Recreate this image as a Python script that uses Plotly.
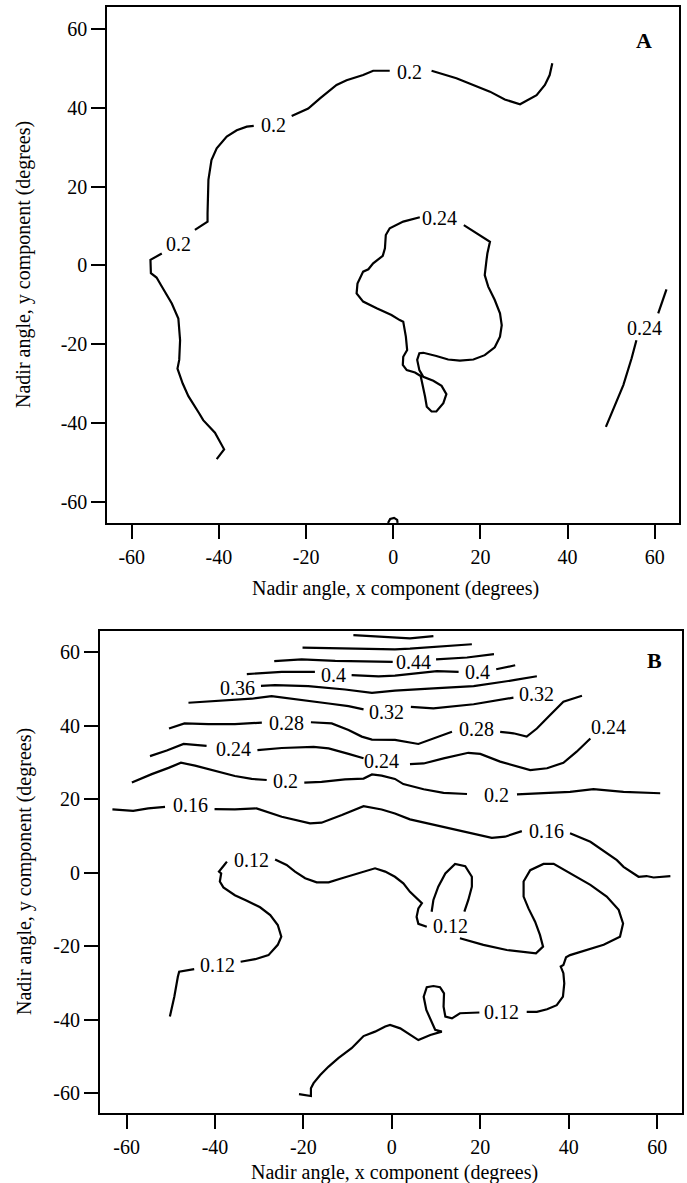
import plotly.graph_objects as go

FONT = "Liberation Serif, Times New Roman, serif"
TICKS = [-60, -40, -20, 0, 20, 40, 60]

# ---------------- Panel A contour segments (degrees) ----------------
a20_1x = [-40.5, -38.8, -40.9, -43.6, -44.5, -47.0, -48.3, -49.5, -49.1, -48.9, -49.3, -50.8, -53.3, -54.3, -55.6, -55.7, -53.1]
a20_1y = [-49.2, -46.7, -42.5, -39.3, -37.6, -33.2, -30.0, -26.2, -24.0, -19.0, -13.5, -9.7, -5.0, -3.1, -2.0, 1.4, 3.0]
a20_2x = [-45.5, -42.6, -42.6, -42.4, -41.7, -40.5, -38.2, -35.9, -33.6, -32.0]
a20_2y = [9.0, 11.1, 13.2, 21.7, 26.7, 29.7, 32.7, 34.3, 35.2, 35.4]
a20_3x = [-23.3, -19.5, -16.8, -13.0, -10.7, -6.9, -4.6, -0.8]
a20_3y = [37.9, 39.8, 42.4, 45.8, 47.0, 48.3, 49.4, 49.4]
a20_4x = [8.8, 14.5, 22.2, 25.6, 29.1, 32.9, 34.8, 35.9, 36.5]
a20_4y = [49.4, 47.5, 44.1, 42.1, 40.9, 43.2, 45.8, 48.3, 51.3]
a20_5x = [-1.2, -0.7, 0.2, 0.9, 1.0]
a20_5y = [-65.4, -64.4, -64.1, -64.6, -65.4]

a24_1x = [6.1, 2.3, -0.8, -1.7, -1.9, -2.4, -4.6, -5.7, -6.9, -8.2,
          -8.4, -6.9, -3.8, -0.4, 1.5, 2.3, 2.9, 3.2, 2.3, 2.2,
          3.1, 5.0, 6.3, 6.7, 7.3, 7.7, 8.8, 9.9, 11.5, 12.2,
          11.1, 9.2, 6.9, 6.0, 5.5, 6.0, 6.9, 9.9, 12.6, 15.3,
          18.4, 21.0, 23.3, 24.5, 24.9, 24.5, 23.3, 21.8, 21.0, 21.4,
          21.6, 22.2, 18.7, 16.2]
a24_1y = [12.2, 11.1, 9.4, 7.7, 4.3, 2.4, 0.5, -1.0, -1.6, -4.6,
          -7.1, -9.2, -10.9, -12.6, -13.9, -14.3, -18.1, -21.5, -23.2, -25.3,
          -26.6, -27.2, -28.1, -30.0, -33.3, -35.9, -37.1, -37.1, -35.0, -32.7,
          -30.6, -29.3, -28.3, -26.6, -24.0, -22.3, -22.2, -23.0, -23.9, -24.2,
          -23.9, -22.8, -20.8, -18.1, -15.2, -12.2, -8.8, -5.4, -2.5, 1.3,
          3.0, 6.0, 8.5, 10.2]
a24_2x = [48.8, 50.9, 52.8, 54.7, 55.8]
a24_2y = [-41.0, -35.5, -30.4, -23.6, -19.0]
a24_3x = [60.8, 62.7]
a24_3y = [-12.2, -6.1]

# contour labels, panel A
lab_a_x = [-49.2, -27.5, 3.8, 10.7, 57.7]
lab_a_y = [5.4, 35.6, 49.2, 11.9, -16.0]
lab_a_v = [0.2, 0.2, 0.2, 0.24, 0.24]

# ---------------- Panel B contour segments (degrees) ----------------
b52_1x = [-8.7, -3.8, -0.4, 4.1, 9.4]
b52_1y = [64.6, 64.3, 63.9, 63.7, 64.3]
b48_1x = [-20.2, -11.3, -4.0, 0.7, 4.1, 9.4, 14.0, 18.1]
b48_1y = [61.2, 61.0, 60.7, 60.7, 60.9, 61.3, 61.6, 62.1]
b44_1x = [-26.6, -20.4, -12.8, -5.0, 0.2]
b44_1y = [57.5, 58.0, 57.6, 57.4, 57.3]
b44_2x = [10.0, 17.0, 23.1]
b44_2y = [58.0, 58.5, 59.4]
b40_1x = [-32.8, -24.9, -17.4]
b40_1y = [54.0, 54.6, 54.6]
b40_2x = [-9.1, -3.0, 0.7, 6.4, 10.2, 15.1]
b40_2y = [53.7, 53.4, 53.6, 54.2, 54.8, 54.6]
b40_3x = [23.6, 27.9]
b40_3y = [55.3, 56.4]
b36_1x = [-29.6, -26.4, -18.9, -10.6, -4.5, 0.7, 9.4, 18.5, 27.9, 32.8]
b36_1y = [50.8, 51.0, 50.7, 49.8, 48.9, 49.5, 50.1, 50.7, 52.4, 53.4]
b32_1x = [-46.0, -37.0, -31.7, -27.2, -21.9, -14.3, -9.8, -6.4]
b32_1y = [46.2, 46.9, 47.3, 48.0, 47.1, 46.0, 45.3, 44.4]
b32_2x = [4.3, 9.4, 18.5, 27.5]
b32_2y = [45.1, 44.7, 45.8, 47.6]
b28_1x = [-50.4, -46.9, -41.5, -35.5, -29.4]
b28_1y = [39.2, 40.6, 40.4, 40.4, 40.8]
b28_2x = [-18.3, -13.6, -9.8, -6.8, -4.5, 0.7, 6.0, 9.4, 13.6]
b28_2y = [40.9, 40.6, 38.8, 37.0, 36.2, 36.1, 35.0, 36.5, 38.3]
b28_3x = [24.5, 27.5, 30.5, 32.8, 35.8, 38.8, 43.0]
b28_3y = [38.3, 37.9, 37.0, 39.2, 42.9, 46.5, 48.1]
b24_1x = [-54.7, -50.9, -47.1, -41.9]
b24_1y = [31.7, 33.2, 35.0, 34.5]
b24_2x = [-30.4, -24.9, -17.7, -14.3, -9.8, -6.4]
b24_2y = [33.3, 33.9, 34.2, 33.8, 32.3, 31.1]
b24_3x = [4.1, 7.2, 11.7, 17.3, 20.0, 24.5, 31.3, 35.1, 38.8, 41.8, 44.9]
b24_3y = [29.5, 29.7, 31.1, 32.6, 32.3, 30.2, 27.9, 28.4, 29.9, 32.9, 36.5]
b20_1x = [-58.8, -54.3, -50.5, -47.7, -44.5, -39.2, -35.5, -31.7, -28.3]
b20_1y = [24.5, 26.8, 28.5, 29.9, 29.1, 27.5, 26.3, 25.5, 25.2]
b20_2x = [-19.8, -15.9, -10.6, -6.4, -4.5, -2.3, 0.7, 2.6, 7.2, 11.7, 17.0]
b20_2y = [24.5, 24.7, 25.4, 25.6, 26.7, 26.4, 25.5, 24.1, 22.7, 21.7, 21.4]
b20_3x = [28.3, 34.3, 40.3, 45.6, 52.4, 60.7]
b20_3y = [21.3, 21.7, 22.0, 22.7, 22.0, 21.6]
b16_1x = [-63.2, -58.5, -55.1, -51.3]
b16_1y = [17.2, 16.8, 17.5, 17.9]
b16_2x = [-40.1, -35.5, -30.6, -24.9, -18.5, -15.9, -11.3, -6.4, -2.3, 0.7, 4.1, 10.9, 17.7, 22.6, 25.6, 29.4]
b16_2y = [17.3, 17.2, 17.5, 15.2, 13.4, 13.6, 15.7, 18.1, 17.2, 16.1, 14.5, 12.7, 10.9, 9.5, 9.8, 11.3]
b16_3x = [40.3, 44.9, 50.9, 52.4, 55.8, 57.6, 59.2, 63.0]
b16_3y = [10.7, 8.4, 3.4, 1.6, -1.1, -0.9, -1.3, -0.9]
b12_1x = [-50.2, -49.2, -48.4, -48.1, -44.7]
b12_1y = [-39.1, -33.7, -28.3, -26.9, -26.2]
b12_2x = [-34.2, -30.9, -27.9, -25.8, -25.0, -25.8, -27.5, -29.8, -32.8, -35.5, -38.1, -38.9, -38.6, -39.1, -37.9, -37.3]
b12_2y = [-24.2, -23.5, -22.4, -19.6, -17.4, -14.2, -11.5, -9.4, -7.6, -6.1, -4.0, -2.4, -0.2, 0.3, 2.1, 3.0]
b12_3x = [-26.4, -23.8, -21.9, -19.6, -17.0, -14.3, -11.3, -7.9, -3.8, -1.5, 0.7, 2.6, 4.1, 6.8, 6.0, 5.6, 6.0, 7.9]
b12_3y = [3.6, 2.1, 0.3, -1.5, -2.6, -2.6, -1.5, -0.2, 1.2, 0.3, -1.1, -2.9, -5.2, -8.3, -9.7, -12.0, -13.9, -14.7]
b12_4x = [9.0, 9.4, 10.5, 12.1, 14.3, 16.6, 18.1, 18.1, 17.3, 16.4]
b12_4y = [-10.6, -7.4, -3.8, -0.2, 2.4, 1.8, -1.1, -3.8, -7.4, -10.6]
b12_5x = [15.4, 20.7, 26.0, 32.6, 34.2, 33.5, 32.4, 30.9, 29.8, 29.8, 31.3, 34.3, 36.6, 40.3, 44.9, 48.6,
          51.3, 52.3, 51.6, 47.9, 44.1, 40.3, 39.4, 38.8, 38.2, 38.8, 39.0, 38.7, 37.3, 35.1, 32.8, 30.5]
b12_5y = [-17.8, -19.6, -21.0, -21.9, -20.1, -16.9, -13.3, -9.7, -6.5, -2.4, 0.7, 2.4, 2.4, -0.2, -3.3, -6.5,
          -10.1, -13.8, -17.4, -19.6, -21.0, -22.4, -23.0, -25.1, -25.5, -27.3, -30.1, -33.7, -36.0, -37.1, -37.8, -37.8]
b12_6x = [19.8, 18.1, 15.4, 13.6, 12.1, 11.7, 11.8, 10.9, 9.4, 7.9, 7.2, 7.8, 8.8, 9.8, 11.3, 8.7,
          6.0, 4.1, 1.9, -0.4, -1.5, -3.8, -6.4, -7.6, -9.1, -12.1, -14.3, -16.2, -17.7, -18.3, -18.3, -21.0]
b12_6y = [-38.0, -38.0, -38.2, -39.6, -39.1, -36.4, -32.8, -31.1, -30.8, -31.1, -33.7, -37.3, -40.0, -42.7, -43.2, -44.1,
          -45.5, -44.1, -42.3, -41.4, -41.8, -43.2, -44.4, -45.9, -47.7, -50.4, -52.7, -55.0, -57.2, -58.6, -60.7, -60.2]

# contour labels, panel B
lab_b_x = [4.8, -13.3, 19.3, -34.9, -1.3, 32.8, -23.8, 19.1, -35.8, -2.3, 49.0, -24.1, 23.7, -45.6, 34.9,
           -39.4, -31.8, 13.2, 24.9]
lab_b_y = [57.3, 53.7, 54.6, 50.1, 43.8, 48.7, 40.8, 39.0, 33.5, 30.3, 39.7, 24.9, 21.1, 18.4, 11.3,
           -25.1, 3.5, -14.5, -37.8]
lab_b_v = [0.44, 0.4, 0.4, 0.36, 0.32, 0.32, 0.28, 0.28, 0.24, 0.24, 0.24, 0.2, 0.2, 0.16, 0.16,
           0.12, 0.12, 0.12, 0.12]

segments_a = [
    (0.2, a20_1x, a20_1y), (0.2, a20_2x, a20_2y), (0.2, a20_3x, a20_3y),
    (0.2, a20_4x, a20_4y), (0.2, a20_5x, a20_5y),
    (0.24, a24_1x, a24_1y), (0.24, a24_2x, a24_2y), (0.24, a24_3x, a24_3y),
]
segments_b = [
    (0.52, b52_1x, b52_1y), (0.48, b48_1x, b48_1y),
    (0.44, b44_1x, b44_1y), (0.44, b44_2x, b44_2y),
    (0.4, b40_1x, b40_1y), (0.4, b40_2x, b40_2y), (0.4, b40_3x, b40_3y),
    (0.36, b36_1x, b36_1y),
    (0.32, b32_1x, b32_1y), (0.32, b32_2x, b32_2y),
    (0.28, b28_1x, b28_1y), (0.28, b28_2x, b28_2y), (0.28, b28_3x, b28_3y),
    (0.24, b24_1x, b24_1y), (0.24, b24_2x, b24_2y), (0.24, b24_3x, b24_3y),
    (0.2, b20_1x, b20_1y), (0.2, b20_2x, b20_2y), (0.2, b20_3x, b20_3y),
    (0.16, b16_1x, b16_1y), (0.16, b16_2x, b16_2y), (0.16, b16_3x, b16_3y),
    (0.12, b12_1x, b12_1y), (0.12, b12_2x, b12_2y), (0.12, b12_3x, b12_3y),
    (0.12, b12_4x, b12_4y), (0.12, b12_5x, b12_5y), (0.12, b12_6x, b12_6y),
]

fig = go.Figure()
for segs, xa, ya in ((segments_a, "x", "y"), (segments_b, "x2", "y2")):
    for level, xs, ys in segs:
        fig.add_trace(go.Scatter(
            x=xs, y=ys, xaxis=xa, yaxis=ya, mode="lines",
            line=dict(color="black", width=2.2), name=f"{level:g}",
            hoverinfo="skip", showlegend=False,
        ))

annotations = []
for xs, ys, vs, xr, yr in ((lab_a_x, lab_a_y, lab_a_v, "x", "y"),
                           (lab_b_x, lab_b_y, lab_b_v, "x2", "y2")):
    for x, y, v in zip(xs, ys, vs):
        annotations.append(dict(
            x=x, y=y, xref=xr, yref=yr, text=f"{v:g}", showarrow=False,
            xanchor="center", yanchor="middle",
            font=dict(family=FONT, size=20, color="black"),
        ))

# panel letters
annotations.append(dict(x=57.5, y=57.2, xref="x", yref="y", text="<b>A</b>", showarrow=False,
                        font=dict(family=FONT, size=22, color="black")))
annotations.append(dict(x=59.5, y=57.6, xref="x2", yref="y2", text="<b>B</b>", showarrow=False,
                        font=dict(family=FONT, size=22, color="black")))

# axis titles
title_font = dict(family=FONT, size=20, color="black")
XT = "Nadir angle, x component (degrees)"
YT = "Nadir angle, y component (degrees)"
annotations += [
    dict(x=395 / 687, y=1 - 588 / 1183, xref="paper", yref="paper", text=XT, showarrow=False,
         xanchor="center", yanchor="middle", font=title_font),
    dict(x=394 / 687, y=1 - 1172 / 1183, xref="paper", yref="paper", text=XT, showarrow=False,
         xanchor="center", yanchor="middle", font=title_font),
    dict(x=24 / 687, y=1 - 265 / 1183, xref="paper", yref="paper", text=YT, showarrow=False,
         textangle=-90, xanchor="center", yanchor="middle", font=title_font),
    dict(x=24 / 687, y=1 - 872 / 1183, xref="paper", yref="paper", text=YT, showarrow=False,
         textangle=-90, xanchor="center", yanchor="middle", font=title_font),
]

axis_common = dict(
    showline=True, linecolor="black", linewidth=2, mirror=True,
    ticks="outside", ticklen=14, tickwidth=2, tickcolor="black",
    tickvals=TICKS, ticktext=[str(t) for t in TICKS],
    showgrid=False, zeroline=False,
    tickfont=dict(family=FONT, size=20, color="black"),
)

fig.update_layout(
    width=687, height=1183,
    margin=dict(l=0, r=0, t=0, b=0),
    paper_bgcolor="white", plot_bgcolor="white",
    showlegend=False,
    xaxis=dict(domain=[0.1562, 0.9879], range=[-65.6, 65.5], anchor="y",
               ticklabelstandoff=1, **axis_common),
    yaxis=dict(domain=[0.5576, 0.9938], range=[-65.5, 65.5], anchor="x", **axis_common),
    xaxis2=dict(domain=[0.1456, 0.9932], range=[-66.0, 65.7], anchor="y2",
                ticklabelstandoff=1, **axis_common),
    yaxis2=dict(domain=[0.0589, 0.4669], range=[-65.4, 65.8], anchor="x2", **axis_common),
    annotations=annotations,
)

fig.write_html("out.html")
